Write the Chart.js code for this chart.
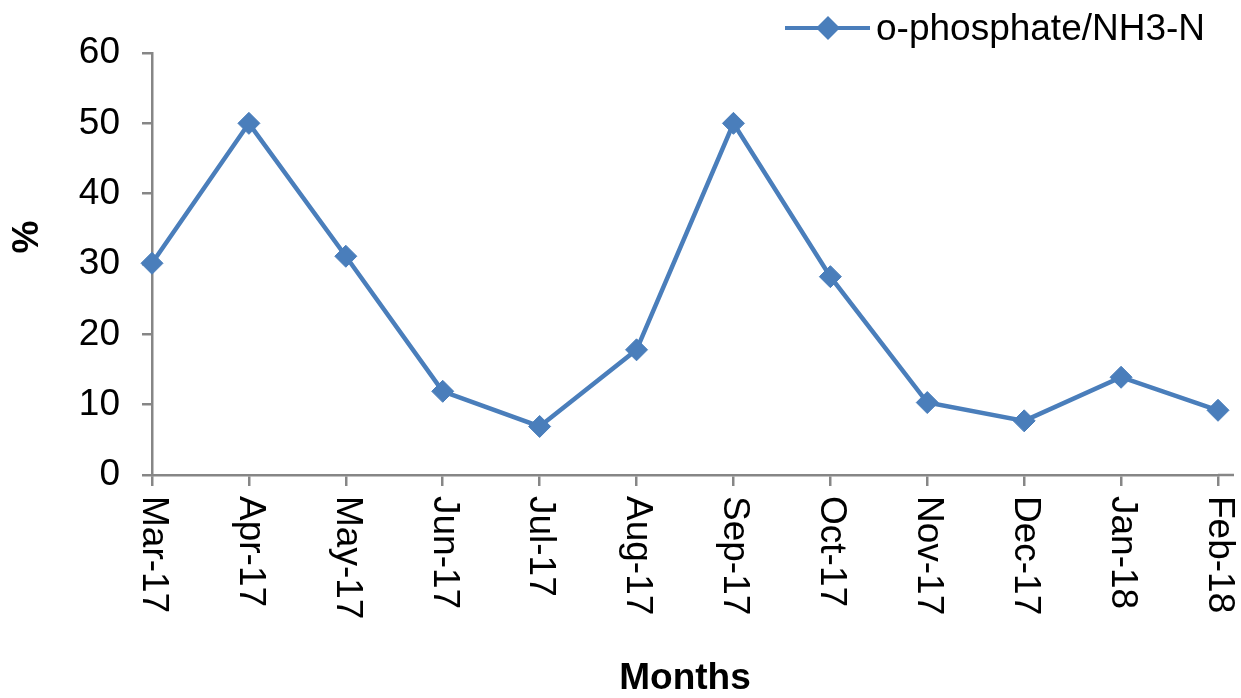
<!DOCTYPE html>
<html>
<head>
<meta charset="utf-8">
<script src="https://cdn.jsdelivr.net/npm/chart.js@4"></script>
<style>
  body { margin: 0; background: #fff; }
  canvas { display: block; }
</style>
</head>
<body>
<canvas id="chart" width="1241" height="698"></canvas>
<script>
// chart data
const months = ["Mar-17", "Apr-17", "May-17", "Jun-17", "Jul-17", "Aug-17",
  "Sep-17", "Oct-17", "Nov-17", "Dec-17", "Jan-18", "Feb-18"];
const ratio = [30.1, 50, 31.1, 11.9, 6.9, 17.8, 50, 28.2, 10.3, 7.7, 13.9, 9.2];
const seriesName = "o-phosphate/NH3-N";
const yTitle = "%";

const blue = "#4a7ebb";
const axisGray = "#868686";
const font = "'Liberation Sans', Arial, sans-serif";

// month labels are written top-to-bottom, plus the legend and % title, drawn by hand
const extras = {
  id: "extras",
  afterDraw(chart) {
    const ctx = chart.ctx;
    const x = chart.scales.x;
    const area = chart.chartArea;
    ctx.save();

    // small run of the x axis past the last point (like excel)
    ctx.strokeStyle = axisGray;
    ctx.lineWidth = 2.5;
    ctx.beginPath();
    ctx.moveTo(area.right, area.bottom);
    ctx.lineTo(area.right + 16, area.bottom);
    ctx.stroke();

    ctx.fillStyle = "#000";
    ctx.font = "37px " + font;
    ctx.textAlign = "left";
    ctx.textBaseline = "middle";
    months.forEach((m, i) => {
      const px = x.getPixelForTick(i);
      ctx.save();
      ctx.translate(px + 1, area.bottom + 21);
      ctx.rotate(Math.PI / 2);
      ctx.fillText(m, 0, 0);
      ctx.restore();
    });

    // y title
    ctx.save();
    ctx.font = "bold 37px " + font;
    ctx.textAlign = "center";
    ctx.translate(28, 237);
    ctx.rotate(-Math.PI / 2);
    ctx.fillText(yTitle, 0, 0);
    ctx.restore();

    // legend
    const ly = 28;
    ctx.strokeStyle = blue;
    ctx.lineWidth = 4;
    ctx.beginPath();
    ctx.moveTo(785, ly);
    ctx.lineTo(870, ly);
    ctx.stroke();
    ctx.fillStyle = blue;
    ctx.beginPath();
    ctx.moveTo(828, ly - 12);
    ctx.lineTo(840, ly);
    ctx.lineTo(828, ly + 12);
    ctx.lineTo(816, ly);
    ctx.closePath();
    ctx.fill();
    ctx.fillStyle = "#000";
    ctx.font = "37px " + font;
    ctx.textAlign = "left";
    ctx.fillText(seriesName, 876, ly + 2);
    ctx.restore();
  }
};

new Chart(document.getElementById("chart"), {
  type: "line",
  data: {
    labels: months,
    datasets: [{
      label: seriesName,
      data: ratio,
      borderColor: blue,
      backgroundColor: blue,
      borderWidth: 4.5,
      pointStyle: "rectRot",
      pointRadius: 11,
      pointBorderWidth: 1,
      tension: 0
    }]
  },
  options: {
    responsive: false,
    animation: false,
    devicePixelRatio: 1,
    layout: { padding: { top: 53, right: 23, left: 0, bottom: 0 } },
    plugins: { legend: { display: false }, tooltip: { enabled: false } },
    scales: {
      x: {
        offset: false,
        grid: { drawOnChartArea: false, drawTicks: true, tickLength: 11, color: axisGray, lineWidth: 2.5 },
        border: { color: axisGray, width: 2.5 },
        ticks: { display: false },
        title: {
          display: true,
          text: "Months",
          color: "#000",
          font: { family: font, size: 37, weight: "bold", lineHeight: 1 },
          padding: { top: 0, bottom: 1 }
        },
        afterFit(scale) { scale.height = 223; }
      },
      y: {
        min: 0,
        max: 60,
        grid: { drawOnChartArea: false, drawTicks: true, tickLength: 10, color: axisGray, lineWidth: 2.5 },
        border: { color: axisGray, width: 2.5 },
        ticks: {
          stepSize: 10,
          color: "#000",
          padding: 22,
          font: { family: font, size: 37 }
        },
        afterFit(scale) { scale.width = 152; }
      }
    }
  },
  plugins: [extras]
});
</script>
</body>
</html>
